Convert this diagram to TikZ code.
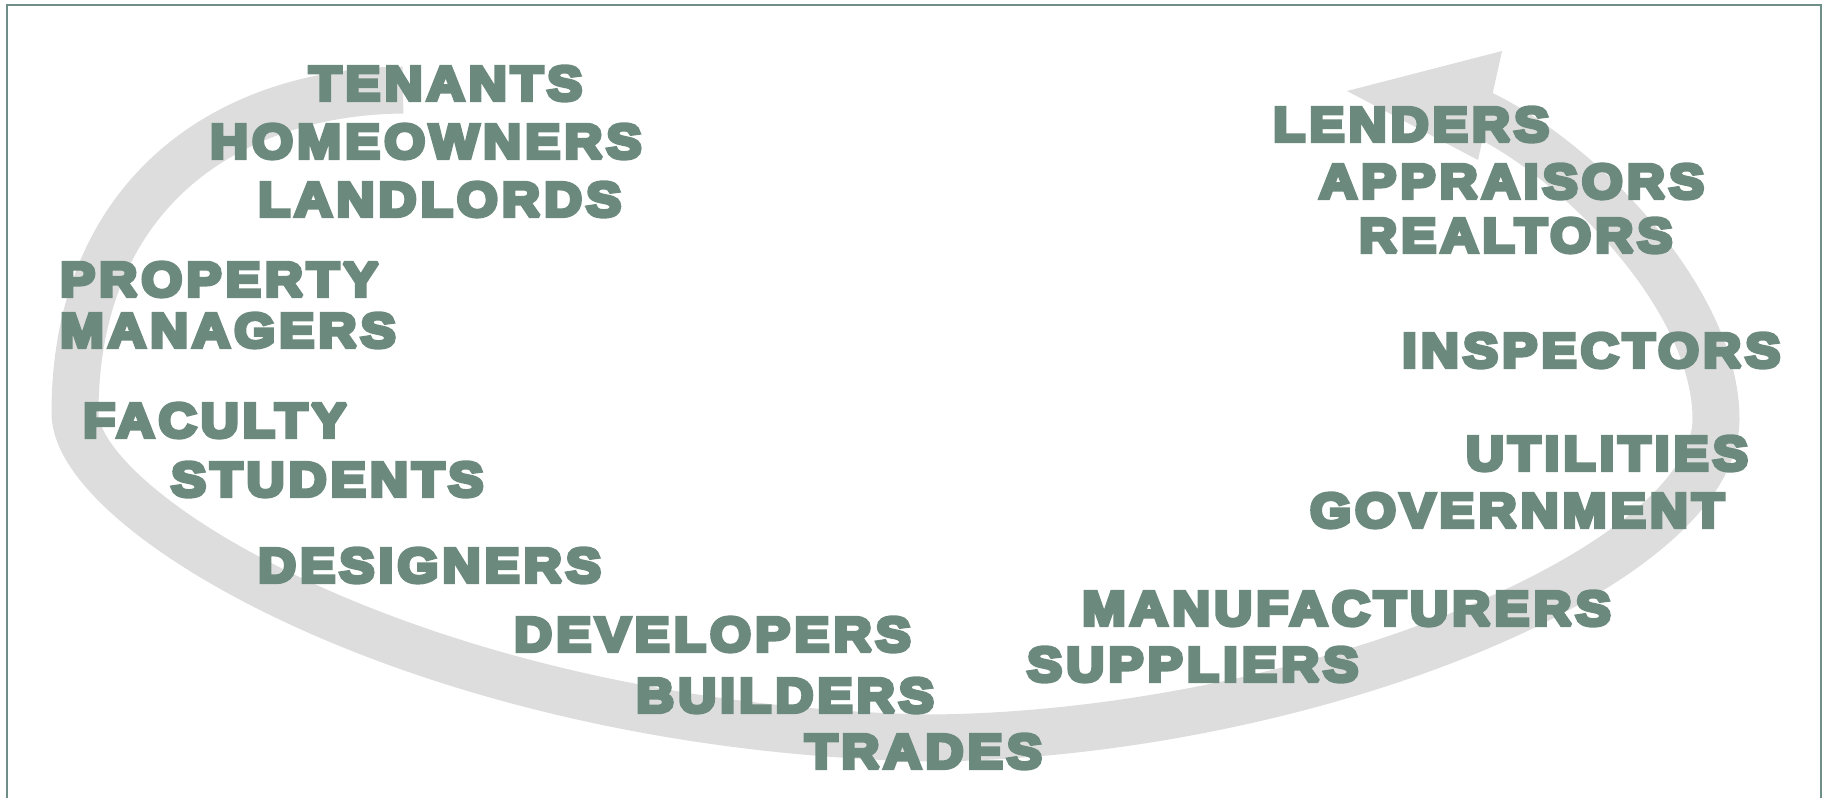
\documentclass[tikz,border=0pt]{standalone}
\usepackage{fontspec}
\newfontfamily\lblfont{Liberation Sans}[UprightFont={*/B}, FakeStretch=1.09, LetterSpace=9, FakeBold=9]
\definecolor{lbl}{HTML}{6B897D}
\definecolor{band}{HTML}{DDDDDD}
\definecolor{frame}{HTML}{6E8E88}
\begin{document}
\begin{tikzpicture}[x=1pt, y=-1pt, miter limit=2,
  label/.style={anchor=base west, inner sep=0pt, text=lbl,
    font=\lblfont\fontsize{48}{56}\selectfont},
  loopband/.style={draw=band, line width=47pt, line cap=butt, line join=round}]
\useasboundingbox (0,0) rectangle (1823,798);
% frame, open at the bottom
\draw[frame, line width=2pt] (7,798) -- (7,5) -- (1821,5) -- (1821,798);
% circular arrow band
\draw[loopband] (403,90)
  .. controls (220,92) and (75,200) .. (75,413)
  .. controls (75,515) and (430,728) .. (930,738)
  .. controls (1300,735) and (1716,570) .. (1716,419)
  .. controls (1716,300) and (1580,160) .. (1478,112);
% arrow head
\fill[band] (1347,91) -- (1502,51) -- (1478,160) -- cycle;
% labels
\node[label] (tenants) at (309,100) {TENANTS};
\node[label] (homeowners) at (210,158) {HOMEOWNERS};
\node[label] (landlords) at (258,216) {LANDLORDS};
\node[label] (property) at (60,296) {PROPERTY};
\node[label] (managers) at (60,347) {MANAGERS};
\node[label] (faculty) at (83,437) {FACULTY};
\node[label] (students) at (171,496) {STUDENTS};
\node[label] (designers) at (258,582) {DESIGNERS};
\node[label] (developers) at (514,651) {DEVELOPERS};
\node[label] (builders) at (636,712) {BUILDERS};
\node[label] (trades) at (805,768) {TRADES};
\node[label] (suppliers) at (1027,681) {SUPPLIERS};
\node[label] (manufacturers) at (1082,625) {MANUFACTURERS};
\node[label] (government) at (1310,527) {GOVERNMENT};
\node[label] (utilities) at (1466,470) {UTILITIES};
\node[label] (inspectors) at (1402,367) {INSPECTORS};
\node[label] (realtors) at (1359,252) {REALTORS};
\node[label] (appraisors) at (1319,198) {APPRAISORS};
\node[label] (lenders) at (1273,141) {LENDERS};
\end{tikzpicture}
\end{document}
